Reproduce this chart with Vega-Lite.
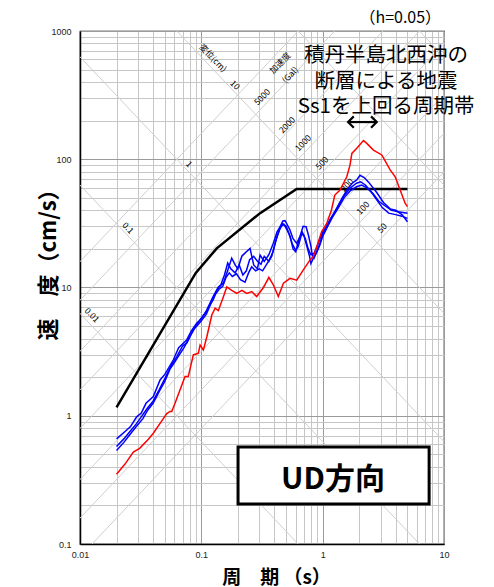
{
  "$schema": "https://vega.github.io/schema/vega-lite/v6.json",
  "width": 364,
  "height": 513,
  "autosize": {"type": "none"},
  "padding": {"left": 80, "top": 31, "right": 50, "bottom": 43},
  "background": "white",
  "config": {
    "view": {"stroke": "#000", "strokeWidth": 1.2},
    "axis": {"domainColor": "#000", "domainWidth": 1.5}
  },
  "datasets": {
    "curves": [
      {"s": "black", "T": 0.02, "V": 1.16}, {"s": "black", "T": 0.09, "V": 13}, {"s": "black", "T": 0.134, "V": 20.2}, {"s": "black", "T": 0.305, "V": 38}, {"s": "black", "T": 0.61, "V": 58.6}, {"s": "black", "T": 5.0, "V": 58.6},

      {"s": "red", "T": 0.02, "V": 0.35}, {"s": "red", "T": 0.0235, "V": 0.42}, {"s": "red", "T": 0.0275, "V": 0.52}, {"s": "red", "T": 0.031, "V": 0.557}, {"s": "red", "T": 0.0366, "V": 0.655}, {"s": "red", "T": 0.0402, "V": 0.73}, {"s": "red", "T": 0.0486, "V": 0.95}, {"s": "red", "T": 0.0519, "V": 1.04}, {"s": "red", "T": 0.0552, "V": 1.08}, {"s": "red", "T": 0.057, "V": 1.08}, {"s": "red", "T": 0.0607, "V": 1.25}, {"s": "red", "T": 0.0734, "V": 2.02}, {"s": "red", "T": 0.078, "V": 2.02}, {"s": "red", "T": 0.0859, "V": 2.98}, {"s": "red", "T": 0.0945, "V": 3.07}, {"s": "red", "T": 0.0977, "V": 3.56}, {"s": "red", "T": 0.104, "V": 3.26}, {"s": "red", "T": 0.111, "V": 4.13}, {"s": "red", "T": 0.122, "V": 6.1}, {"s": "red", "T": 0.13, "V": 6.9}, {"s": "red", "T": 0.138, "V": 6.6}, {"s": "red", "T": 0.152, "V": 8.47}, {"s": "red", "T": 0.162, "V": 10.1}, {"s": "red", "T": 0.178, "V": 9.5}, {"s": "red", "T": 0.196, "V": 9.0}, {"s": "red", "T": 0.216, "V": 9.5}, {"s": "red", "T": 0.237, "V": 9.0}, {"s": "red", "T": 0.26, "V": 9.3}, {"s": "red", "T": 0.286, "V": 8.5}, {"s": "red", "T": 0.325, "V": 10.0}, {"s": "red", "T": 0.36, "V": 12.0}, {"s": "red", "T": 0.392, "V": 10.5}, {"s": "red", "T": 0.431, "V": 8.5}, {"s": "red", "T": 0.475, "V": 10.8}, {"s": "red", "T": 0.538, "V": 11.8}, {"s": "red", "T": 0.611, "V": 11.4}, {"s": "red", "T": 0.693, "V": 13.7}, {"s": "red", "T": 0.787, "V": 16.4}, {"s": "red", "T": 0.837, "V": 17.4}, {"s": "red", "T": 0.894, "V": 20.8}, {"s": "red", "T": 0.98, "V": 27.2}, {"s": "red", "T": 1.08, "V": 31.6}, {"s": "red", "T": 1.18, "V": 40}, {"s": "red", "T": 1.26, "V": 52.6}, {"s": "red", "T": 1.39, "V": 57.5}, {"s": "red", "T": 1.58, "V": 73}, {"s": "red", "T": 1.68, "V": 90}, {"s": "red", "T": 1.74, "V": 111}, {"s": "red", "T": 1.91, "V": 122}, {"s": "red", "T": 2.17, "V": 140}, {"s": "red", "T": 2.31, "V": 133}, {"s": "red", "T": 2.62, "V": 118}, {"s": "red", "T": 3.07, "V": 108}, {"s": "red", "T": 3.6, "V": 82.5}, {"s": "red", "T": 3.96, "V": 73}, {"s": "red", "T": 4.35, "V": 57.5}, {"s": "red", "T": 4.78, "V": 45.4}, {"s": "red", "T": 5.0, "V": 42.7},

      {"s": "b1", "T": 0.02, "V": 0.66}, {"s": "b1", "T": 0.023, "V": 0.74}, {"s": "b1", "T": 0.026, "V": 0.82}, {"s": "b1", "T": 0.0293, "V": 0.98}, {"s": "b1", "T": 0.032, "V": 1.05}, {"s": "b1", "T": 0.035, "V": 1.25}, {"s": "b1", "T": 0.0402, "V": 1.41}, {"s": "b1", "T": 0.0457, "V": 1.9}, {"s": "b1", "T": 0.05, "V": 2.1}, {"s": "b1", "T": 0.0587, "V": 2.72}, {"s": "b1", "T": 0.065, "V": 3.4}, {"s": "b1", "T": 0.0757, "V": 3.9}, {"s": "b1", "T": 0.083, "V": 4.6}, {"s": "b1", "T": 0.0914, "V": 5.26}, {"s": "b1", "T": 0.1, "V": 5.7}, {"s": "b1", "T": 0.111, "V": 6.7}, {"s": "b1", "T": 0.125, "V": 8.5}, {"s": "b1", "T": 0.138, "V": 10.1}, {"s": "b1", "T": 0.152, "V": 10.8}, {"s": "b1", "T": 0.162, "V": 12.9}, {"s": "b1", "T": 0.178, "V": 16.9}, {"s": "b1", "T": 0.19, "V": 15}, {"s": "b1", "T": 0.2, "V": 14}, {"s": "b1", "T": 0.216, "V": 17.6}, {"s": "b1", "T": 0.235, "V": 19}, {"s": "b1", "T": 0.252, "V": 20.2}, {"s": "b1", "T": 0.27, "V": 15}, {"s": "b1", "T": 0.29, "V": 14}, {"s": "b1", "T": 0.305, "V": 17.9}, {"s": "b1", "T": 0.33, "V": 16}, {"s": "b1", "T": 0.36, "V": 18}, {"s": "b1", "T": 0.392, "V": 22.1}, {"s": "b1", "T": 0.42, "V": 27}, {"s": "b1", "T": 0.446, "V": 29.8}, {"s": "b1", "T": 0.47, "V": 33}, {"s": "b1", "T": 0.489, "V": 33.2}, {"s": "b1", "T": 0.51, "V": 31}, {"s": "b1", "T": 0.538, "V": 28}, {"s": "b1", "T": 0.57, "V": 24}, {"s": "b1", "T": 0.611, "V": 22.1}, {"s": "b1", "T": 0.65, "V": 25}, {"s": "b1", "T": 0.69, "V": 30}, {"s": "b1", "T": 0.73, "V": 29.8}, {"s": "b1", "T": 0.76, "V": 26}, {"s": "b1", "T": 0.8, "V": 21}, {"s": "b1", "T": 0.82, "V": 18}, {"s": "b1", "T": 0.85, "V": 17}, {"s": "b1", "T": 0.9, "V": 19.5}, {"s": "b1", "T": 0.95, "V": 22}, {"s": "b1", "T": 1.0, "V": 26.3}, {"s": "b1", "T": 1.08, "V": 29.8}, {"s": "b1", "T": 1.15, "V": 34}, {"s": "b1", "T": 1.29, "V": 40}, {"s": "b1", "T": 1.45, "V": 50}, {"s": "b1", "T": 1.58, "V": 57.5}, {"s": "b1", "T": 1.75, "V": 65}, {"s": "b1", "T": 1.91, "V": 69}, {"s": "b1", "T": 2.03, "V": 75}, {"s": "b1", "T": 2.2, "V": 72}, {"s": "b1", "T": 2.4, "V": 66}, {"s": "b1", "T": 2.79, "V": 55}, {"s": "b1", "T": 3.17, "V": 46}, {"s": "b1", "T": 3.6, "V": 41}, {"s": "b1", "T": 4.0, "V": 40}, {"s": "b1", "T": 4.5, "V": 37}, {"s": "b1", "T": 5.0, "V": 32.6},

      {"s": "b2", "T": 0.02, "V": 0.575}, {"s": "b2", "T": 0.023, "V": 0.66}, {"s": "b2", "T": 0.026, "V": 0.76}, {"s": "b2", "T": 0.029, "V": 0.86}, {"s": "b2", "T": 0.032, "V": 0.98}, {"s": "b2", "T": 0.036, "V": 1.15}, {"s": "b2", "T": 0.04, "V": 1.3}, {"s": "b2", "T": 0.045, "V": 1.6}, {"s": "b2", "T": 0.05, "V": 1.95}, {"s": "b2", "T": 0.057, "V": 2.5}, {"s": "b2", "T": 0.063, "V": 2.9}, {"s": "b2", "T": 0.07, "V": 3.5}, {"s": "b2", "T": 0.076, "V": 3.7}, {"s": "b2", "T": 0.083, "V": 4.4}, {"s": "b2", "T": 0.09, "V": 5.0}, {"s": "b2", "T": 0.1, "V": 5.8}, {"s": "b2", "T": 0.108, "V": 6.3}, {"s": "b2", "T": 0.116, "V": 7.2}, {"s": "b2", "T": 0.125, "V": 8.0}, {"s": "b2", "T": 0.135, "V": 9.6}, {"s": "b2", "T": 0.145, "V": 10.5}, {"s": "b2", "T": 0.155, "V": 12.5}, {"s": "b2", "T": 0.165, "V": 15.5}, {"s": "b2", "T": 0.175, "V": 14}, {"s": "b2", "T": 0.19, "V": 13}, {"s": "b2", "T": 0.205, "V": 15}, {"s": "b2", "T": 0.22, "V": 12.5}, {"s": "b2", "T": 0.235, "V": 13.5}, {"s": "b2", "T": 0.25, "V": 16.5}, {"s": "b2", "T": 0.27, "V": 17.5}, {"s": "b2", "T": 0.29, "V": 16}, {"s": "b2", "T": 0.31, "V": 15.2}, {"s": "b2", "T": 0.33, "V": 17.5}, {"s": "b2", "T": 0.36, "V": 16}, {"s": "b2", "T": 0.39, "V": 19}, {"s": "b2", "T": 0.42, "V": 25}, {"s": "b2", "T": 0.45, "V": 30}, {"s": "b2", "T": 0.48, "V": 31}, {"s": "b2", "T": 0.51, "V": 28}, {"s": "b2", "T": 0.54, "V": 25}, {"s": "b2", "T": 0.57, "V": 20}, {"s": "b2", "T": 0.6, "V": 19}, {"s": "b2", "T": 0.64, "V": 24}, {"s": "b2", "T": 0.68, "V": 27}, {"s": "b2", "T": 0.72, "V": 24}, {"s": "b2", "T": 0.76, "V": 20}, {"s": "b2", "T": 0.8, "V": 18}, {"s": "b2", "T": 0.85, "V": 18.5}, {"s": "b2", "T": 0.9, "V": 21}, {"s": "b2", "T": 0.95, "V": 24}, {"s": "b2", "T": 1.0, "V": 27}, {"s": "b2", "T": 1.1, "V": 31}, {"s": "b2", "T": 1.2, "V": 36}, {"s": "b2", "T": 1.35, "V": 44}, {"s": "b2", "T": 1.5, "V": 52}, {"s": "b2", "T": 1.7, "V": 60}, {"s": "b2", "T": 1.9, "V": 65}, {"s": "b2", "T": 2.05, "V": 66.8}, {"s": "b2", "T": 2.25, "V": 63}, {"s": "b2", "T": 2.5, "V": 56}, {"s": "b2", "T": 2.8, "V": 48}, {"s": "b2", "T": 3.1, "V": 42}, {"s": "b2", "T": 3.5, "V": 38}, {"s": "b2", "T": 4.0, "V": 37}, {"s": "b2", "T": 4.5, "V": 36}, {"s": "b2", "T": 5.0, "V": 34.6},

      {"s": "b3", "T": 0.02, "V": 0.535}, {"s": "b3", "T": 0.023, "V": 0.62}, {"s": "b3", "T": 0.026, "V": 0.72}, {"s": "b3", "T": 0.029, "V": 0.82}, {"s": "b3", "T": 0.033, "V": 0.95}, {"s": "b3", "T": 0.036, "V": 1.1}, {"s": "b3", "T": 0.04, "V": 1.25}, {"s": "b3", "T": 0.045, "V": 1.55}, {"s": "b3", "T": 0.05, "V": 1.85}, {"s": "b3", "T": 0.055, "V": 2.3}, {"s": "b3", "T": 0.06, "V": 2.6}, {"s": "b3", "T": 0.066, "V": 3.0}, {"s": "b3", "T": 0.072, "V": 3.4}, {"s": "b3", "T": 0.08, "V": 4.1}, {"s": "b3", "T": 0.088, "V": 4.8}, {"s": "b3", "T": 0.095, "V": 5.2}, {"s": "b3", "T": 0.1, "V": 5.5}, {"s": "b3", "T": 0.11, "V": 6.2}, {"s": "b3", "T": 0.12, "V": 7.5}, {"s": "b3", "T": 0.13, "V": 8.8}, {"s": "b3", "T": 0.14, "V": 9.7}, {"s": "b3", "T": 0.15, "V": 10.2}, {"s": "b3", "T": 0.16, "V": 12}, {"s": "b3", "T": 0.17, "V": 13}, {"s": "b3", "T": 0.18, "V": 12.2}, {"s": "b3", "T": 0.195, "V": 12.8}, {"s": "b3", "T": 0.21, "V": 11.5}, {"s": "b3", "T": 0.229, "V": 11}, {"s": "b3", "T": 0.245, "V": 13}, {"s": "b3", "T": 0.26, "V": 14.5}, {"s": "b3", "T": 0.28, "V": 13.5}, {"s": "b3", "T": 0.3, "V": 14}, {"s": "b3", "T": 0.32, "V": 13.5}, {"s": "b3", "T": 0.35, "V": 15.5}, {"s": "b3", "T": 0.38, "V": 17.5}, {"s": "b3", "T": 0.41, "V": 23}, {"s": "b3", "T": 0.44, "V": 28}, {"s": "b3", "T": 0.47, "V": 31.5}, {"s": "b3", "T": 0.5, "V": 30}, {"s": "b3", "T": 0.53, "V": 26}, {"s": "b3", "T": 0.56, "V": 22}, {"s": "b3", "T": 0.6, "V": 19.5}, {"s": "b3", "T": 0.63, "V": 21}, {"s": "b3", "T": 0.67, "V": 26}, {"s": "b3", "T": 0.7, "V": 25.5}, {"s": "b3", "T": 0.74, "V": 21}, {"s": "b3", "T": 0.78, "V": 17.5}, {"s": "b3", "T": 0.8, "V": 15.4}, {"s": "b3", "T": 0.84, "V": 17}, {"s": "b3", "T": 0.9, "V": 19}, {"s": "b3", "T": 0.95, "V": 21.5}, {"s": "b3", "T": 1.0, "V": 25}, {"s": "b3", "T": 1.1, "V": 30}, {"s": "b3", "T": 1.2, "V": 35}, {"s": "b3", "T": 1.35, "V": 42}, {"s": "b3", "T": 1.5, "V": 50}, {"s": "b3", "T": 1.7, "V": 57}, {"s": "b3", "T": 1.9, "V": 61}, {"s": "b3", "T": 2.1, "V": 63}, {"s": "b3", "T": 2.3, "V": 60}, {"s": "b3", "T": 2.6, "V": 54}, {"s": "b3", "T": 2.9, "V": 47}, {"s": "b3", "T": 3.3, "V": 43}, {"s": "b3", "T": 3.7, "V": 40}, {"s": "b3", "T": 4.2, "V": 39}, {"s": "b3", "T": 4.6, "V": 38.5}, {"s": "b3", "T": 5.0, "V": 37.9}
    ],
    "diag": [
      {"T": 0.001, "V": 62.83, "T2": 100, "V2": 0.0006283},
      {"T": 0.001, "V": 628.3, "T2": 100, "V2": 0.006283},
      {"T": 0.001, "V": 6283, "T2": 100, "V2": 0.06283},
      {"T": 0.001, "V": 62832, "T2": 100, "V2": 0.6283},
      {"T": 0.001, "V": 628319, "T2": 100, "V2": 6.283},
      {"T": 0.001, "V": 6283185, "T2": 100, "V2": 62.83},
      {"T": 0.001, "V": 0.007958, "T2": 100, "V2": 795.8},
      {"T": 0.001, "V": 0.01592, "T2": 100, "V2": 1591.5},
      {"T": 0.001, "V": 0.03183, "T2": 100, "V2": 3183},
      {"T": 0.001, "V": 0.07958, "T2": 100, "V2": 7958},
      {"T": 0.001, "V": 0.1592, "T2": 100, "V2": 15915},
      {"T": 0.001, "V": 0.3183, "T2": 100, "V2": 31831},
      {"T": 0.001, "V": 0.7958, "T2": 100, "V2": 79577},
      {"T": 0.001, "V": 1.592, "T2": 100, "V2": 159155}
    ],
    "dlabels": [
      {"T": 0.1249, "V": 616, "label": "変位(cm)", "ang": 46},
      {"T": 0.1896, "V": 379, "label": "10", "ang": 46},
      {"T": 0.0792, "V": 91.8, "label": "1", "ang": 46},
      {"T": 0.0249, "V": 29.1, "label": "0.1", "ang": 46},
      {"T": 0.01256, "V": 6.1, "label": "0.01", "ang": 46},
      {"T": 0.4454, "V": 563, "label": "加速度", "ang": 314},
      {"T": 0.5385, "V": 454, "label": "(Gal)", "ang": 314},
      {"T": 0.3165, "V": 306, "label": "5000", "ang": 314},
      {"T": 0.5087, "V": 185, "label": "2000", "ang": 314},
      {"T": 0.6896, "V": 133.9, "label": "1000", "ang": 314},
      {"T": 0.9885, "V": 93.5, "label": "500", "ang": 314},
      {"T": 1.589, "V": 63, "label": "200", "ang": 314},
      {"T": 2.153, "V": 41.7, "label": "100", "ang": 314},
      {"T": 3.088, "V": 29.1, "label": "50", "ang": 314}
    ],
    "note": [{"T": 3.33, "V": 638}],
    "hnote": [{"T": 4.36, "V": 1263, "label": "（h=0.05）"}],
    "arrow": [{"T": 1.62, "V": 195, "T2": 2.79}],
    "heads": [{"T": 1.62, "V": 195, "dir": "L"}, {"T": 2.79, "V": 195, "dir": "R"}],
    "box": [{"T": 0.2007, "T2": 7.54, "V": 0.5706, "V2": 0.205}],
    "boxlabel": [{"T": 1.218, "V": 0.318, "label": "UD方向"}]
  },
  "encoding": {
    "x": {
      "field": "T", "type": "quantitative",
      "scale": {"type": "log", "domain": [0.01, 10]},
      "axis": {
        "values": [0.01,0.02,0.03,0.04,0.05,0.06,0.07,0.08,0.09,0.1,0.2,0.3,0.4,0.5,0.6,0.7,0.8,0.9,1,2,3,4,5,6,7,8,9,10],
        "labelExpr": "datum.value==0.01?'0.01':datum.value==0.1?'0.1':datum.value==1?'1':datum.value==10?'10':''",
        "grid": true,
        "gridColor": {"condition": {"test": "datum.value==0.01||datum.value==0.1||datum.value==1||datum.value==10", "value": "#9a9a9a"}, "value": "#c6c6c6"},
        "ticks": false, "labelPadding": 6, "labelFlush": false, "labelOverlap": false,
        "labelFont": "Liberation Sans", "labelFontSize": 9, "labelColor": "#222",
        "title": "周　期 （s）", "titleFont": "Noto Sans CJK JP", "titleFontSize": 19, "titleFontWeight": "bold",
        "titleX": 196, "titleY": 33, "titleBaseline": "middle", "titleAlign": "center", "titleColor": "#000"
      }
    },
    "y": {
      "field": "V", "type": "quantitative",
      "scale": {"type": "log", "domain": [0.1, 1000]},
      "axis": {
        "values": [0.1,0.2,0.3,0.4,0.5,0.6,0.7,0.8,0.9,1,2,3,4,5,6,7,8,9,10,20,30,40,50,60,70,80,90,100,200,300,400,500,600,700,800,900,1000],
        "labelExpr": "datum.value==0.1?'0.1':datum.value==1?'1':datum.value==10?'10':datum.value==100?'100':datum.value==1000?'1000':''",
        "grid": true,
        "gridColor": {"condition": {"test": "datum.value==0.1||datum.value==1||datum.value==10||datum.value==100||datum.value==1000", "value": "#9a9a9a"}, "value": "#c6c6c6"},
        "ticks": false, "labelPadding": 9, "labelOverlap": false,
        "labelFont": "Liberation Sans", "labelFontSize": 9, "labelColor": "#222",
        "title": "速　度（cm/s）", "titleFont": "Noto Sans CJK JP", "titleFontSize": 22, "titleFontWeight": "bold",
        "titleX": -32, "titleY": 228, "titleAngle": -90, "titleBaseline": "middle", "titleAlign": "center", "titleColor": "#000"
      }
    }
  },
  "layer": [
    {
      "data": {"name": "diag"},
      "mark": {"type": "rule", "clip": true, "color": "#cfcfcf", "strokeWidth": 1},
      "encoding": {"x2": {"field": "T2"}, "y2": {"field": "V2"}}
    },
    {
      "data": {"name": "dlabels"},
      "mark": {"type": "text", "font": "Noto Sans CJK JP", "fontSize": 8.5, "color": "#000"},
      "encoding": {"text": {"field": "label"}, "angle": {"field": "ang", "type": "quantitative", "scale": null}}
    },
    {
      "data": {"name": "curves"},
      "transform": [{"filter": "datum.s=='black'"}],
      "mark": {"type": "line", "color": "#000", "strokeWidth": 2.5, "clip": true},
      "encoding": {}
    },
    {
      "data": {"name": "curves"},
      "transform": [{"filter": "datum.s=='b1'||datum.s=='b2'||datum.s=='b3'"}],
      "mark": {"type": "line", "color": "#0000ff", "strokeWidth": 1.5, "clip": true},
      "encoding": {"detail": {"field": "s", "type": "nominal"}}
    },
    {
      "data": {"name": "curves"},
      "transform": [{"filter": "datum.s=='red'"}],
      "mark": {"type": "line", "color": "#ff0000", "strokeWidth": 1.5, "clip": true},
      "encoding": {}
    },
    {
      "data": {"name": "note"},
      "mark": {"type": "text", "text": ["積丹半島北西沖の", "断層による地震", "Ss1を上回る周期帯"], "lineHeight": 25.5, "font": "Noto Sans CJK JP", "fontSize": 20.5, "color": "#000", "align": "center", "baseline": "middle"},
      "encoding": {}
    },
    {
      "data": {"name": "hnote"},
      "mark": {"type": "text", "font": "Noto Sans CJK JP", "fontSize": 16, "color": "#000", "align": "center", "baseline": "middle"},
      "encoding": {"text": {"field": "label"}}
    },
    {
      "data": {"name": "arrow"},
      "mark": {"type": "rule", "color": "#000", "strokeWidth": 2.2},
      "encoding": {"x2": {"field": "T2"}}
    },
    {
      "data": {"name": "heads"},
      "mark": {"type": "point", "filled": false, "color": "#000", "strokeWidth": 2.2, "size": 130, "opacity": 1},
      "encoding": {"shape": {"field": "dir", "type": "nominal", "scale": {"domain": ["L", "R"], "range": ["M1,-1L0,0L1,1", "M-1,-1L0,0L-1,1"]}, "legend": null}}
    },
    {
      "data": {"name": "box"},
      "mark": {"type": "rect", "fill": "#fff", "stroke": "#000", "strokeWidth": 3},
      "encoding": {"x2": {"field": "T2"}, "y2": {"field": "V2"}}
    },
    {
      "data": {"name": "boxlabel"},
      "mark": {"type": "text", "font": "Noto Sans CJK JP", "fontSize": 30, "fontWeight": "bold", "color": "#000", "align": "center", "baseline": "middle"},
      "encoding": {"text": {"field": "label"}}
    }
  ]
}
